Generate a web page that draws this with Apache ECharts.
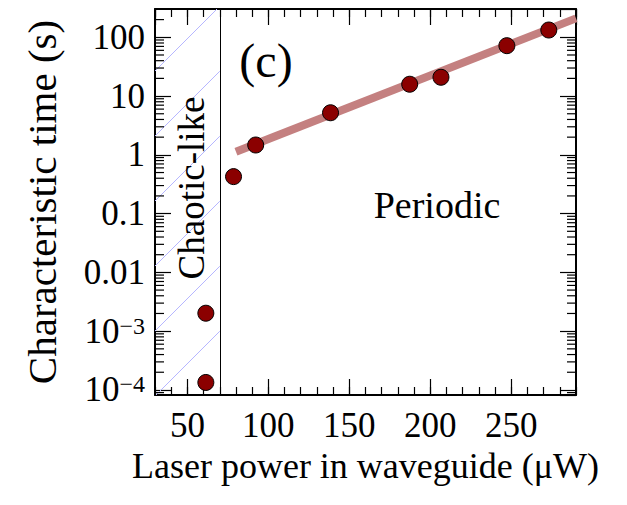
<!DOCTYPE html>
<html>
<head>
<meta charset="utf-8">
<script src="https://cdn.jsdelivr.net/npm/echarts@6/dist/echarts.min.js"></script>
<style>
html,body{margin:0;padding:0;background:#fff;}
#chart{width:627px;height:505px;}
</style>
</head>
<body>
<div id="chart"></div>
<script>
// ---- data ----
const powerUW = [61.4, 61.4, 78.5, 92.2, 138.4, 187.3, 206.6, 247.3, 273.2];
const timeS   = [1.34e-4, 2.02e-3, 0.426, 1.47, 5.2, 15.9, 20.9, 72, 133];
const fitPower = [80, 290];
const fitTime  = [1.13, 210];
const chaoticRange = [30, 70];
const xTickValues = [50, 100, 150, 200, 250];
const xTickLabels = ['50', '100', '150', '200', '250'];
const yTickValues = [1e-4, 1e-3, 0.01, 0.1, 1, 10, 100];
const yTickLabels = ['10^−4', '10^−3', '0.01', '0.1', '1', '10', '100'];
const minorMultipliers = [2, 3, 4, 5, 6, 7, 8, 9];
const minorDecades = [1e-5, 1e-4, 1e-3, 1e-2, 1e-1, 1, 10, 100];
const xMin = 30, xMax = 290, yMin = 8.2e-5, yMax = 303;

// ---- style ----
const FONT = '"Liberation Serif", serif';
const hatchSpacing = 65, hatchPhase = 31, hatchColor = 'rgb(182,182,255)';

const yMinorTicks = [];
minorDecades.forEach(d => minorMultipliers.forEach(m => {
  const v = d * m;
  if (v > yMin && v < yMax) yMinorTicks.push(v);
}));

function xLabel(v) {
  const i = xTickValues.findIndex(t => Math.abs(t - v) < 1e-6);
  return i >= 0 ? xTickLabels[i] : '';
}
function yLabel(v) {
  const i = yTickValues.findIndex(t => Math.abs(Math.log10(t) - Math.log10(v)) < 1e-6);
  if (i < 0) return '';
  const s = yTickLabels[i];
  if (s.indexOf('^') >= 0) {
    const p = s.split('^');
    return '{b|' + p[0] + '}{s|' + p[1] + '}';
  }
  return '{b|' + s + '}';
}
const ts = () => ({ color: '#000', width: 1.2 });
const als = () => ({ color: '#000', width: 2 });

const chart = echarts.init(document.getElementById('chart'), null, { renderer: 'svg' });
chart.setOption({
  animation: false,
  backgroundColor: '#fff',
  grid: { left: 155, right: 51, top: 9, bottom: 110, containLabel: false, outerBoundsMode: 'none' },
  xAxis: [
    { type: 'value', position: 'bottom', min: xMin, max: xMax,
      axisLine: { show: true, onZero: false, lineStyle: als() },
      axisTick: { show: true, inside: true, length: 16, lineStyle: ts() },
      axisLabel: { show: true, margin: 13, formatter: xLabel, showMinLabel: false, showMaxLabel: false,
        color: '#000', fontFamily: FONT, fontSize: 35 },
      splitLine: { show: false },
      name: 'Laser power in waveguide (μW)', nameLocation: 'middle', nameGap: 52,
      nameTextStyle: { color: '#000', fontFamily: FONT, fontSize: 36 } },
    { type: 'value', position: 'bottom', min: xMin, max: xMax, interval: 10, axisLine: { show: false },
      axisTick: { show: true, inside: true, length: 8, lineStyle: ts() }, axisLabel: { show: false }, splitLine: { show: false } },
    { type: 'value', position: 'top', min: xMin, max: xMax, axisLine: { show: true, onZero: false, lineStyle: als() },
      axisTick: { show: true, inside: true, length: 16, lineStyle: ts() }, axisLabel: { show: false }, splitLine: { show: false } },
    { type: 'value', position: 'top', min: xMin, max: xMax, interval: 10, axisLine: { show: false },
      axisTick: { show: true, inside: true, length: 8, lineStyle: ts() }, axisLabel: { show: false }, splitLine: { show: false } }
  ],
  yAxis: [
    { type: 'log', position: 'left', min: yMin, max: yMax,
      axisLine: { show: true, onZero: false, lineStyle: als() },
      axisTick: { show: true, inside: true, length: 16, lineStyle: ts() },
      axisLabel: { show: true, margin: 10, formatter: yLabel, showMinLabel: false, showMaxLabel: false,
        color: '#000', fontFamily: FONT, fontSize: 35,
        rich: { b: { fontFamily: FONT, fontSize: 35, color: '#000' },
                s: { fontFamily: FONT, fontSize: 24, color: '#000', verticalAlign: 'top' } } },
      splitLine: { show: false },
      name: 'Characteristic time (s)', nameLocation: 'middle', nameGap: 93,
      nameTextStyle: { color: '#000', fontFamily: FONT, fontSize: 41 } },
    { type: 'log', position: 'right', min: yMin, max: yMax,
      axisLine: { show: true, onZero: false, lineStyle: als() },
      axisTick: { show: true, inside: true, length: 16, lineStyle: ts() }, axisLabel: { show: false }, splitLine: { show: false } }
  ],
  series: [
    { // hatched "chaotic-like" region
      type: 'custom', xAxisIndex: 0, yAxisIndex: 0, silent: true, clip: false, z: 1,
      data: [[chaoticRange[0], 1]],
      renderItem: function (params, api) {
        const a = api.coord([chaoticRange[0], yMax]);
        const b = api.coord([chaoticRange[1], yMin]);
        const x0 = a[0], y0 = a[1], x1 = b[0], y1 = b[1];
        const children = [];
        const k0 = Math.ceil((x0 + y0 - hatchPhase) / hatchSpacing);
        const k1 = Math.floor((x1 + y1 - hatchPhase) / hatchSpacing);
        for (let k = k0; k <= k1; k++) {
          const c = hatchPhase + k * hatchSpacing;
          const lo = Math.max(x0, c - y1), hi = Math.min(x1, c - y0);
          if (hi > lo) children.push({ type: 'line', shape: { x1: lo, y1: c - lo, x2: hi, y2: c - hi },
            style: { stroke: hatchColor, lineWidth: 1 } });
        }
        return { type: 'group', children: children };
      }
    },
    { // log minor ticks on left and right frame
      type: 'custom', xAxisIndex: 0, yAxisIndex: 0, silent: true, clip: false, z: 1,
      data: yMinorTicks.map(v => [xMin, v]),
      renderItem: function (params, api) {
        const v = api.value(1);
        const pL = api.coord([xMin, v]);
        const pR = api.coord([xMax, v]);
        return { type: 'group', children: [
          { type: 'line', shape: { x1: pL[0], y1: pL[1], x2: pL[0] + 9, y2: pL[1] }, style: { stroke: '#000', lineWidth: 1.2 } },
          { type: 'line', shape: { x1: pR[0] - 9, y1: pR[1], x2: pR[0], y2: pR[1] }, style: { stroke: '#000', lineWidth: 1.2 } } ] };
      }
    },
    { type: 'line', xAxisIndex: 0, yAxisIndex: 0, z: 2, data: fitPower.map((x, i) => [x, fitTime[i]]),
      showSymbol: false, lineStyle: { color: '#c48080', width: 8, cap: 'butt' },
      markLine: { silent: true, symbol: ['none', 'none'], lineStyle: { color: '#000', width: 1, type: 'solid' },
        label: { show: false }, data: [{ xAxis: chaoticRange[1] }] } },
    { type: 'scatter', xAxisIndex: 0, yAxisIndex: 0, z: 3, data: powerUW.map((x, i) => [x, timeS[i]]),
      symbolSize: 16, itemStyle: { color: '#8b0000', borderColor: '#000', borderWidth: 1, opacity: 1 } }
  ],
  graphic: [
    { type: 'text', x: 266, y: 60, z: 10,
      style: { text: '(c)', fontFamily: FONT, fontSize: 48, fill: '#000', align: 'center', verticalAlign: 'middle' } },
    { type: 'text', x: 437, y: 205, z: 10,
      style: { text: 'Periodic', fontFamily: FONT, fontSize: 38, fill: '#000', align: 'center', verticalAlign: 'middle' } },
    { type: 'text', x: 191, y: 188, rotation: Math.PI / 2, z: 10,
      style: { text: 'Chaotic-like', fontFamily: FONT, fontSize: 37, fill: '#000', align: 'center', verticalAlign: 'middle' } }
  ]
});
</script>
</body>
</html>
